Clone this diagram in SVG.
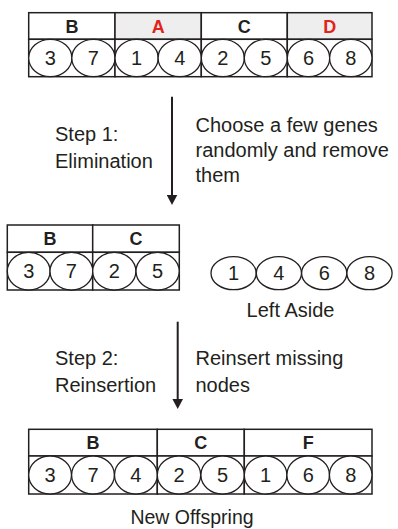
<svg xmlns="http://www.w3.org/2000/svg" width="398" height="529" viewBox="0 0 398 529">
  <style>
    text { font-family: "Liberation Sans", Arial, sans-serif; fill: #231f20; }
    .hdr { font-size: 18px; font-weight: bold; text-anchor: middle; }
    .red { fill: #e2231a; }
    .num { font-size: 20px; text-anchor: middle; }
    .lbl { font-size: 20px; }
    .cap { font-size: 20px; text-anchor: middle; }
    .cell { fill: #ffffff; stroke: #231f20; stroke-width: 1.5; }
    .grey { fill: #eeeeee; }
    .gene { fill: #ffffff; stroke: #231f20; stroke-width: 1.3; }
    .conn { stroke: #231f20; stroke-width: 2; fill: none; marker-end: url(#head); }
  </style>
  <defs>
    <!-- solid triangular arrowhead, tip 5px past the line end -->
    <marker id="head" markerUnits="userSpaceOnUse" markerWidth="10" markerHeight="11" viewBox="0 0 10 11" refX="5" refY="5.5" orient="auto">
      <path d="M0,0.2 L10,5.5 L0,10.8 Z" fill="#231f20"/>
    </marker>
  </defs>
  <rect width="398" height="529" fill="#ffffff"/>

  <!-- parent chromosome -->
  <g id="parent">
    <rect class="cell" x="28.7" y="12.7" width="86.3" height="26.6"/>
    <rect class="cell grey" x="115" y="12.7" width="86.3" height="26.6"/>
    <rect class="cell" x="201.3" y="12.7" width="86" height="26.6"/>
    <rect class="cell grey" x="287.3" y="12.7" width="84.7" height="26.6"/>
    <rect class="cell" x="28.7" y="39.3" width="86.3" height="37.4"/>
    <rect class="cell" x="115" y="39.3" width="86.3" height="37.4"/>
    <rect class="cell" x="201.3" y="39.3" width="86" height="37.4"/>
    <rect class="cell" x="287.3" y="39.3" width="84.7" height="37.4"/>
    <text class="hdr" x="71.9" y="32.5">B</text>
    <text class="hdr red" x="158.2" y="32.5">A</text>
    <text class="hdr" x="244.3" y="32.5">C</text>
    <text class="hdr red" x="329.7" y="32.5">D</text>
    <ellipse class="gene" cx="50.3" cy="58" rx="21.6" ry="18.7"/>
    <ellipse class="gene" cx="93.4" cy="58" rx="21.6" ry="18.7"/>
    <ellipse class="gene" cx="136.6" cy="58" rx="21.6" ry="18.7"/>
    <ellipse class="gene" cx="179.7" cy="58" rx="21.6" ry="18.7"/>
    <ellipse class="gene" cx="222.8" cy="58" rx="21.5" ry="18.7"/>
    <ellipse class="gene" cx="265.8" cy="58" rx="21.5" ry="18.7"/>
    <ellipse class="gene" cx="308.5" cy="58" rx="21.2" ry="18.7"/>
    <ellipse class="gene" cx="350.8" cy="58" rx="21.2" ry="18.7"/>
    <text class="num" x="50.3" y="65">3</text>
    <text class="num" x="93.4" y="65">7</text>
    <text class="num" x="136.6" y="65">1</text>
    <text class="num" x="179.7" y="65">4</text>
    <text class="num" x="222.8" y="65">2</text>
    <text class="num" x="265.8" y="65">5</text>
    <text class="num" x="308.5" y="65">6</text>
    <text class="num" x="350.8" y="65">8</text>
  </g>

  <!-- step 1 annotation -->
  <g id="step1">
    <text class="lbl" x="55" y="140.5">Step 1:</text>
    <text class="lbl" x="55" y="168">Elimination</text>
    <text class="lbl" x="195.5" y="131.5">Choose a few genes</text>
    <text class="lbl" x="195.5" y="156.5">randomly and remove</text>
    <text class="lbl" x="195.5" y="181.5">them</text>
  </g>

  <!-- reduced chromosome -->
  <g id="reduced">
    <rect class="cell" x="7.3" y="225" width="85.4" height="27.3"/>
    <rect class="cell" x="92.7" y="225" width="86.6" height="27.3"/>
    <rect class="cell" x="7.3" y="252.3" width="85.4" height="37.7"/>
    <rect class="cell" x="92.7" y="252.3" width="86.6" height="37.7"/>
    <text class="hdr" x="50" y="245.2">B</text>
    <text class="hdr" x="136" y="245.2">C</text>
    <ellipse class="gene" cx="28.7" cy="271.2" rx="21.4" ry="18.8"/>
    <ellipse class="gene" cx="71.4" cy="271.2" rx="21.4" ry="18.8"/>
    <ellipse class="gene" cx="114.3" cy="271.2" rx="21.6" ry="18.8"/>
    <ellipse class="gene" cx="157.6" cy="271.2" rx="21.6" ry="18.8"/>
    <text class="num" x="28.7" y="278.2">3</text>
    <text class="num" x="71.4" y="278.2">7</text>
    <text class="num" x="114.3" y="278.2">2</text>
    <text class="num" x="157.6" y="278.2">5</text>
  </g>

  <!-- genes set aside -->
  <g id="aside">
    <ellipse class="gene" cx="233.6" cy="273.2" rx="22.6" ry="16.5"/>
    <ellipse class="gene" cx="278.9" cy="273.2" rx="22.6" ry="16.5"/>
    <ellipse class="gene" cx="324.2" cy="273.2" rx="22.6" ry="16.5"/>
    <ellipse class="gene" cx="369.5" cy="273.2" rx="22.6" ry="16.5"/>
    <text class="num" x="233.6" y="280.2">1</text>
    <text class="num" x="278.9" y="280.2">4</text>
    <text class="num" x="324.2" y="280.2">6</text>
    <text class="num" x="369.5" y="280.2">8</text>
    <text class="cap" x="290.5" y="317">Left Aside</text>
  </g>

  <!-- step 2 annotation -->
  <g id="step2">
    <text class="lbl" x="55" y="365">Step 2:</text>
    <text class="lbl" x="55" y="391.7">Reinsertion</text>
    <text class="lbl" x="195.5" y="365">Reinsert missing</text>
    <text class="lbl" x="195.5" y="391.7">nodes</text>
  </g>

  <!-- offspring chromosome -->
  <g id="offspring">
    <rect class="cell" x="28.7" y="429.3" width="128.6" height="26.7"/>
    <rect class="cell" x="157.3" y="429.3" width="87" height="26.7"/>
    <rect class="cell" x="244.3" y="429.3" width="127.7" height="26.7"/>
    <rect class="cell" x="28.7" y="456" width="128.6" height="38"/>
    <rect class="cell" x="157.3" y="456" width="87" height="38"/>
    <rect class="cell" x="244.3" y="456" width="127.7" height="38"/>
    <text class="hdr" x="93" y="449.2">B</text>
    <text class="hdr" x="200.8" y="449.2">C</text>
    <text class="hdr" x="308.2" y="449.2">F</text>
    <ellipse class="gene" cx="50.1" cy="475" rx="21.4" ry="19"/>
    <ellipse class="gene" cx="93" cy="475" rx="21.4" ry="19"/>
    <ellipse class="gene" cx="135.9" cy="475" rx="21.4" ry="19"/>
    <ellipse class="gene" cx="179" cy="475" rx="21.7" ry="19"/>
    <ellipse class="gene" cx="222.6" cy="475" rx="21.7" ry="19"/>
    <ellipse class="gene" cx="265.6" cy="475" rx="21.3" ry="19"/>
    <ellipse class="gene" cx="308.2" cy="475" rx="21.3" ry="19"/>
    <ellipse class="gene" cx="350.7" cy="475" rx="21.3" ry="19"/>
    <text class="num" x="50.1" y="482">3</text>
    <text class="num" x="93" y="482">7</text>
    <text class="num" x="135.9" y="482">4</text>
    <text class="num" x="179" y="482">2</text>
    <text class="num" x="222.6" y="482">5</text>
    <text class="num" x="265.6" y="482">1</text>
    <text class="num" x="308.2" y="482">6</text>
    <text class="num" x="350.7" y="482">8</text>
    <text class="cap" x="192" y="523.5" style="font-size:19.5px">New Offspring</text>
  </g>

  <!-- step arrows -->
  <g id="connectors">
    <path class="conn" d="M172,96.7 V200"/>
    <path class="conn" d="M177.7,321.7 V404"/>
  </g>
</svg>
